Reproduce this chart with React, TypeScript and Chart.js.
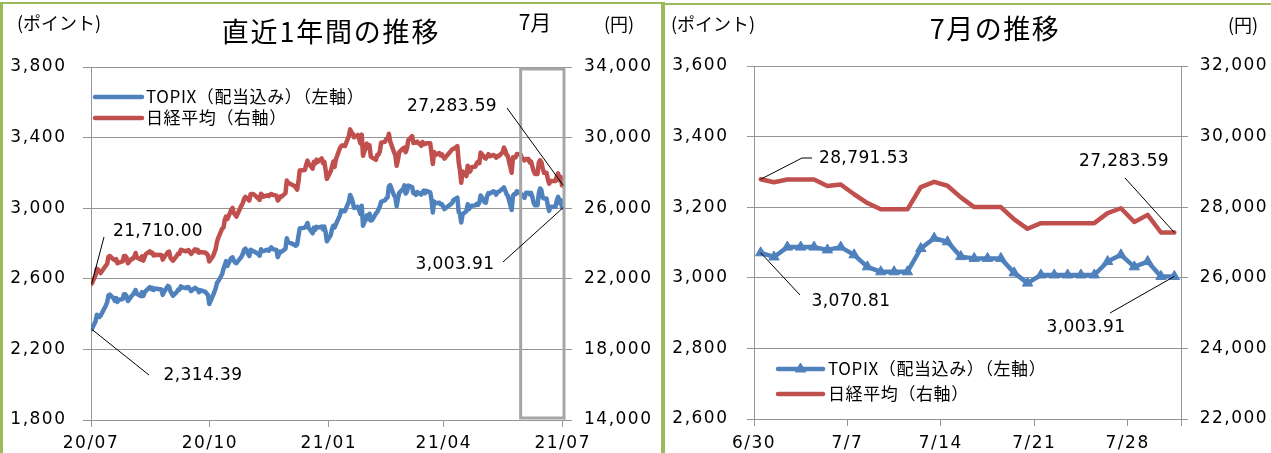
import React, { useEffect, useRef } from 'react';
import { Chart, registerables } from 'chart.js';

Chart.register(...registerables);

// ---------------- DATA: one year (trading days, 2020-07-31 .. 2021-06-29) ----------------
const YEAR_DATES = [
  '2020-07-31',
  '2020-08-03','2020-08-04','2020-08-05','2020-08-06','2020-08-07','2020-08-11','2020-08-12','2020-08-13','2020-08-14','2020-08-17',
  '2020-08-18','2020-08-19','2020-08-20','2020-08-21','2020-08-24','2020-08-25','2020-08-26','2020-08-27','2020-08-28','2020-08-31',
  '2020-09-01','2020-09-02','2020-09-03','2020-09-04','2020-09-07','2020-09-08','2020-09-09','2020-09-10','2020-09-11','2020-09-14',
  '2020-09-15','2020-09-16','2020-09-17','2020-09-18','2020-09-23','2020-09-24','2020-09-25','2020-09-28','2020-09-29','2020-09-30',
  '2020-10-02','2020-10-05','2020-10-06','2020-10-07','2020-10-08','2020-10-09','2020-10-12','2020-10-13','2020-10-14','2020-10-15',
  '2020-10-16','2020-10-19','2020-10-20','2020-10-21','2020-10-22','2020-10-23','2020-10-26','2020-10-27','2020-10-28','2020-10-29','2020-10-30',
  '2020-11-02','2020-11-04','2020-11-05','2020-11-06','2020-11-09','2020-11-10','2020-11-11','2020-11-12','2020-11-13','2020-11-16',
  '2020-11-17','2020-11-18','2020-11-19','2020-11-20','2020-11-24','2020-11-25','2020-11-26','2020-11-27','2020-11-30',
  '2020-12-01','2020-12-02','2020-12-03','2020-12-04','2020-12-07','2020-12-08','2020-12-09','2020-12-10','2020-12-11','2020-12-14',
  '2020-12-15','2020-12-16','2020-12-17','2020-12-18','2020-12-21','2020-12-22','2020-12-23','2020-12-24','2020-12-25','2020-12-28','2020-12-29','2020-12-30',
  '2021-01-04','2021-01-05','2021-01-06','2021-01-07','2021-01-08','2021-01-12','2021-01-13','2021-01-14','2021-01-15','2021-01-18',
  '2021-01-19','2021-01-20','2021-01-21','2021-01-22','2021-01-25','2021-01-26','2021-01-27','2021-01-28','2021-01-29',
  '2021-02-01','2021-02-02','2021-02-03','2021-02-04','2021-02-05','2021-02-08','2021-02-09','2021-02-10','2021-02-12','2021-02-15',
  '2021-02-16','2021-02-17','2021-02-18','2021-02-19','2021-02-22','2021-02-24','2021-02-25','2021-02-26',
  '2021-03-01','2021-03-02','2021-03-03','2021-03-04','2021-03-05','2021-03-08','2021-03-09','2021-03-10','2021-03-11','2021-03-12',
  '2021-03-15','2021-03-16','2021-03-17','2021-03-18','2021-03-19','2021-03-22','2021-03-23','2021-03-24','2021-03-25','2021-03-26',
  '2021-03-29','2021-03-30','2021-03-31',
  '2021-04-01','2021-04-02','2021-04-05','2021-04-06','2021-04-07','2021-04-08','2021-04-09','2021-04-12','2021-04-13','2021-04-14',
  '2021-04-15','2021-04-16','2021-04-19','2021-04-20','2021-04-21','2021-04-22','2021-04-23','2021-04-26','2021-04-27','2021-04-28','2021-04-30',
  '2021-05-06','2021-05-07','2021-05-10','2021-05-11','2021-05-12','2021-05-13','2021-05-14','2021-05-17','2021-05-18','2021-05-19',
  '2021-05-20','2021-05-21','2021-05-24','2021-05-25','2021-05-26','2021-05-27','2021-05-28','2021-05-31',
  '2021-06-01','2021-06-02','2021-06-03','2021-06-04','2021-06-07','2021-06-08','2021-06-09','2021-06-10','2021-06-11','2021-06-14',
  '2021-06-15','2021-06-16','2021-06-17','2021-06-18','2021-06-21','2021-06-22','2021-06-23','2021-06-24','2021-06-25','2021-06-28','2021-06-29',
];

const YEAR_NIKKEI = [
  21710.00,
  22195, 22573, 22514, 22418, 22329, 22750, 22843, 23249, 23289, 23097,
  23051, 23110, 22880, 22920, 22985, 23296, 23290, 23208, 22882, 23139,
  23138, 23247, 23465, 23205, 23089, 23274, 23032, 23235, 23406, 23559,
  23454, 23475, 23319, 23360, 23346, 23087, 23204, 23511, 23539, 23185,
  23029, 23312, 23433, 23422, 23647, 23619, 23558, 23601, 23626, 23507,
  23410, 23671, 23567, 23639, 23474, 23516, 23494, 23485, 23418, 23331, 22977,
  23295, 23695, 24105, 24325, 24839, 24905, 25349, 25520, 25385, 25906,
  26014, 25728, 25634, 25527, 26165, 26296, 26537, 26644, 26433,
  26787, 26800, 26809, 26751, 26547, 26467, 26817, 26756, 26652, 26732,
  26687, 26757, 26806, 26763, 26714, 26436, 26524, 26668, 26656, 26854, 27568, 27444,
  27258, 27158, 27055, 27490, 28139, 28164, 28456, 28698, 28519, 28242,
  28633, 28523, 28756, 28631, 28822, 28546, 28635, 28197, 27663,
  28091, 28362, 28646, 28341, 28779, 29388, 29505, 29562, 29520, 30084,
  30467, 30292, 30236, 30017, 30156, 29671, 30168, 28966,
  29663, 29408, 29559, 28930, 28864, 28743, 29028, 29036, 29212, 29717,
  29766, 29921, 29914, 30216, 29792, 29174, 28995, 28405, 28729, 29176,
  29384, 29432, 29178,
  29388, 29854, 30089, 29696, 29730, 29708, 29768, 29538, 29751, 29620,
  29642, 29683, 29685, 29100, 28508, 29188, 29020, 29126, 28991, 29053, 28812,
  29331, 29357, 29518, 28608, 28147, 27448, 28084, 27824, 28406, 28044,
  28098, 28317, 28364, 28553, 28642, 28549, 29149, 28860,
  28814, 28946, 29058, 28941, 29019, 28963, 28860, 28958, 28948, 29161,
  29441, 29291, 29018, 28964, 28010, 28884, 28874, 28875, 29066, 29048, 28812,
];

const YEAR_TOPIX = [
  2314.39,
  2358, 2396, 2390, 2384, 2392, 2449, 2466, 2506, 2511, 2489,
  2475, 2491, 2469, 2481, 2485, 2512, 2512, 2502, 2474, 2503,
  2512, 2522, 2536, 2515, 2502, 2525, 2503, 2523, 2532, 2553,
  2542, 2548, 2537, 2545, 2539, 2509, 2525, 2560, 2555, 2529,
  2504, 2527, 2539, 2538, 2557, 2552, 2547, 2553, 2552, 2541,
  2530, 2549, 2543, 2539, 2524, 2536, 2529, 2525, 2516, 2510, 2457,
  2507, 2547, 2578, 2586, 2627, 2656, 2676, 2700, 2673, 2718,
  2721, 2703, 2692, 2689, 2726, 2742, 2765, 2771, 2729,
  2765, 2760, 2756, 2754, 2739, 2731, 2767, 2757, 2757, 2765,
  2759, 2768, 2778, 2768, 2764, 2723, 2740, 2754, 2753, 2770, 2830, 2809,
  2792, 2787, 2795, 2841, 2885, 2890, 2900, 2916, 2888, 2858,
  2890, 2877, 2894, 2890, 2896, 2880, 2896, 2866, 2813,
  2848, 2882, 2900, 2891, 2910, 2958, 2986, 2983, 2983, 3037,
  3075, 3059, 3037, 3002, 3008, 2967, 3014, 2900,
  2960, 2938, 2969, 2930, 2932, 2970, 2978, 2995, 3009, 3036,
  3045, 3056, 3061, 3124, 3131, 3072, 3064, 3011, 3053, 3087,
  3109, 3129, 3083,
  3093, 3128, 3120, 3085, 3088, 3076, 3091, 3077, 3091, 3099,
  3085, 3098, 3090, 3047, 2976, 3038, 3028, 3031, 3022, 3023, 2995,
  3030, 3047, 3060, 2979, 2968, 2919, 2965, 2984, 3022, 2995,
  3008, 3014, 3016, 3025, 3019, 3033, 3072, 3035,
  3031, 3069, 3085, 3082, 3096, 3091, 3077, 3091, 3093, 3110,
  3118, 3101, 3080, 3071, 2990, 3071, 3080, 3079, 3096, 3082, 3068,
];

const YEAR_TICK_DATES = ['2020-07-31', '2020-10-31', '2021-01-31', '2021-04-30', '2021-07-31'];
const YEAR_TICK_LABELS = ['20/07', '20/10', '21/01', '21/04', '21/07'];
const YEAR_END_DATE = '2021-07-31';
const HIGHLIGHT_START = '2021-06-30';

// ---------------- DATA: July (daily, 2021-06-30 .. 2021-07-31) ----------------
const JULY_DATES = [
  '2021-06-30','2021-07-01','2021-07-02','2021-07-03','2021-07-04','2021-07-05','2021-07-06','2021-07-07',
  '2021-07-08','2021-07-09','2021-07-10','2021-07-11','2021-07-12','2021-07-13','2021-07-14','2021-07-15',
  '2021-07-16','2021-07-17','2021-07-18','2021-07-19','2021-07-20','2021-07-21','2021-07-22','2021-07-23',
  '2021-07-24','2021-07-25','2021-07-26','2021-07-27','2021-07-28','2021-07-29','2021-07-30','2021-07-31',
];
const JULY_NIKKEI = [
  28791.53, 28707.04, 28783.28, 28783.28, 28783.28, 28598.19, 28643.21, 28366.95,
  28118.03, 27940.42, 27940.42, 27940.42, 28569.02, 28718.24, 28608.49, 28279.09,
  28003.08, 28003.08, 28003.08, 27652.74, 27388.16, 27548.00, 27548.00, 27548.00,
  27548.00, 27548.00, 27833.29, 27970.22, 27581.66, 27782.42, 27283.59, 27283.59,
];
const JULY_TOPIX = [
  3070.81, 3059, 3087, 3087, 3087, 3079, 3087, 3065,
  3031, 3017, 3017, 3017, 3083, 3112, 3102, 3060,
  3055, 3055, 3055, 3014, 2985, 3008, 3008, 3008,
  3008, 3008, 3046, 3065, 3031, 3046, 3003.91, 3003.91,
];
const JULY_TICK_DATES = ['2021-06-30', '2021-07-07', '2021-07-14', '2021-07-21', '2021-07-28'];
const JULY_TICK_LABELS = ['6/30', '7/7', '7/14', '7/21', '7/28'];

const LABEL_TOPIX = 'TOPIX（配当込み）（左軸）';
const LABEL_NIKKEI = '日経平均（右軸）';

// ---------------- STYLE ----------------
const BLUE = '#4F81BD';
const RED = '#C0504D';
const GRID = '#959595';
const FRAME = '#9BBB59';
const HILITE = '#A6A6A6';
const TICK_FONT = "'DejaVu Sans', sans-serif";
const JP_FONT = "'Noto Sans CJK JP', 'Noto Sans', sans-serif";
const NUM_FONT = "'DejaVu Sans', sans-serif";

const BASE = Date.UTC(2020, 6, 31);
function dayOffset(iso: string): number {
  const [y, m, d] = iso.split('-').map(Number);
  return Math.round((Date.UTC(y, m - 1, d) - BASE) / 86400000);
}
const fmt2 = (v: number) => v.toLocaleString('en-US', { minimumFractionDigits: 2, maximumFractionDigits: 2 });
const fmtTick = (v: number | string) => Number(v).toLocaleString('en-US');

type TextItem = { text: string; x: number; y: number; size: number; family?: string; spacing?: number; align?: CanvasTextAlign };
type Callout = { dataset: number; index: number; path: [number, number][]; text: string; x: number; y: number };
type DecorCfg = {
  tickSpacing: number;
  texts: TextItem[];
  legend: { x0: number; x1: number; ys: number[]; textX: number; size: number; spacing: number };
  callouts: Callout[];
  highlightFrom?: number;
};

function drawText(ctx: any, t: TextItem) {
  ctx.save();
  ctx.font = `${t.size}px ${t.family || JP_FONT}`;
  ctx.letterSpacing = `${t.spacing || 0}px`;
  ctx.fillStyle = '#000';
  ctx.textAlign = t.align || 'center';
  ctx.textBaseline = 'middle';
  ctx.fillText(t.text, t.x, t.y);
  ctx.restore();
}

function triangle(ctx: any, x: number, y: number, r: number, color: string) {
  ctx.save();
  ctx.beginPath();
  let rad = 0;
  ctx.moveTo(x + Math.sin(rad) * r, y - Math.cos(rad) * r);
  rad += (2 * Math.PI) / 3;
  ctx.lineTo(x + Math.sin(rad) * r, y - Math.cos(rad) * r);
  rad += (2 * Math.PI) / 3;
  ctx.lineTo(x + Math.sin(rad) * r, y - Math.cos(rad) * r);
  ctx.closePath();
  ctx.fillStyle = color;
  ctx.strokeStyle = color;
  ctx.lineWidth = 1;
  ctx.fill();
  ctx.stroke();
  ctx.restore();
}

function makeDecor(cfg: DecorCfg) {
  return {
    id: 'decor',
    beforeDraw(chart: any) {
      chart.ctx.letterSpacing = `${cfg.tickSpacing}px`;
    },
    afterDatasetsDraw(chart: any) {
      if (cfg.highlightFrom === undefined) return;
      const { ctx, chartArea } = chart;
      const xs = chart.scales.x;
      const x0 = xs.getPixelForValue(cfg.highlightFrom) - 2;
      const x1 = chartArea.right;
      ctx.save();
      ctx.strokeStyle = HILITE;
      ctx.lineWidth = 3;
      ctx.strokeRect(x0, chartArea.top + 2, x1 - x0, chartArea.bottom - chartArea.top - 4);
      ctx.restore();
    },
    afterDraw(chart: any) {
      const ctx = chart.ctx;
      cfg.texts.forEach((t) => drawText(ctx, t));
      // legend
      const L = cfg.legend;
      chart.data.datasets.forEach((ds: any, i: number) => {
        const y = L.ys[i];
        ctx.save();
        ctx.strokeStyle = ds.borderColor;
        ctx.lineWidth = 4.5;
        ctx.lineCap = 'round';
        ctx.beginPath();
        ctx.moveTo(L.x0, y);
        ctx.lineTo(L.x1, y);
        ctx.stroke();
        ctx.restore();
        if (ds.pointStyle === 'triangle' && ds.pointRadius > 0) {
          triangle(ctx, (L.x0 + L.x1) / 2, y, ds.pointRadius, ds.borderColor);
        }
        drawText(ctx, { text: ds.label, x: L.textX, y, size: L.size, spacing: L.spacing, align: 'left' });
      });
      // callouts
      cfg.callouts.forEach((c) => {
        const meta = chart.getDatasetMeta(c.dataset);
        const pts = meta.data;
        const p = pts[c.index < 0 ? pts.length + c.index : c.index];
        ctx.save();
        ctx.strokeStyle = '#000';
        ctx.lineWidth = 1;
        ctx.beginPath();
        ctx.moveTo(c.path[0][0], c.path[0][1]);
        for (let k = 1; k < c.path.length; k++) ctx.lineTo(c.path[k][0], c.path[k][1]);
        ctx.lineTo(p.x, p.y);
        ctx.stroke();
        ctx.restore();
        drawText(ctx, { text: c.text, x: c.x, y: c.y, size: 17, family: NUM_FONT, spacing: 0.4 });
      });
    },
  };
}

function axisCommon() {
  return {
    color: '#000',
    font: { family: TICK_FONT, size: 17 },
  };
}

function yearConfig(): any {
  const topix = [
    ...YEAR_TOPIX.map((v, i) => ({ x: dayOffset(YEAR_DATES[i]), y: v })),
    ...JULY_TOPIX.map((v, i) => ({ x: dayOffset(JULY_DATES[i]), y: v })),
  ];
  const nikkei = [
    ...YEAR_NIKKEI.map((v, i) => ({ x: dayOffset(YEAR_DATES[i]), y: v })),
    ...JULY_NIKKEI.map((v, i) => ({ x: dayOffset(JULY_DATES[i]), y: v })),
  ];
  const tickVals = YEAR_TICK_DATES.map((d) => dayOffset(d) - 0.5);
  const decor = makeDecor({
    tickSpacing: 1.5,
    texts: [
      { text: '(ポイント)', x: 59, y: 23, size: 18 },
      { text: '直近1年間の推移', x: 331, y: 32, size: 27, spacing: 1.8 },
      { text: '7月', x: 535, y: 22, size: 21 },
      { text: '(円)', x: 619, y: 24, size: 18 },
    ],
    legend: { x0: 95, x1: 142, ys: [97, 118], textX: 146, size: 17, spacing: 0.6 },
    callouts: [
      { dataset: 1, index: 0, path: [[104, 237]], text: fmt2(YEAR_NIKKEI[0]), x: 158, y: 232 },
      { dataset: 0, index: 0, path: [[149, 375]], text: fmt2(YEAR_TOPIX[0]), x: 203, y: 376 },
      { dataset: 1, index: -1, path: [[507, 108]], text: fmt2(JULY_NIKKEI[JULY_NIKKEI.length - 1]), x: 452, y: 107 },
      { dataset: 0, index: -1, path: [[503, 262]], text: fmt2(JULY_TOPIX[JULY_TOPIX.length - 1]), x: 455, y: 265 },
    ],
    highlightFrom: dayOffset(HIGHLIGHT_START) - 0.5,
  });
  return {
    type: 'line',
    data: {
      datasets: [
        { label: LABEL_TOPIX, data: topix, yAxisID: 'y', borderColor: BLUE, backgroundColor: BLUE, borderWidth: 4.5, pointRadius: 0, tension: 0, borderJoinStyle: 'round', borderCapStyle: 'round' },
        { label: LABEL_NIKKEI, data: nikkei, yAxisID: 'y1', borderColor: RED, backgroundColor: RED, borderWidth: 4.5, pointRadius: 0, tension: 0, borderJoinStyle: 'round', borderCapStyle: 'round' },
      ],
    },
    options: {
      responsive: false,
      animation: false,
      devicePixelRatio: 1,
      events: [],
      layout: { padding: { top: 67, left: 0, right: 0, bottom: 0 } },
      plugins: { legend: { display: false }, tooltip: { enabled: false }, title: { display: false } },
      scales: {
        x: {
          type: 'linear',
          bounds: 'data',
          min: -0.5,
          max: dayOffset(YEAR_END_DATE) + 0.5,
          afterBuildTicks: (s: any) => { s.ticks = tickVals.map((v) => ({ value: v })); },
          afterFit: (s: any) => { s.height = 33; },
          ticks: { ...axisCommon(), autoSkip: false, maxRotation: 0, minRotation: 0, padding: 6, callback: (_v: any, i: number) => YEAR_TICK_LABELS[i] },
          grid: { drawOnChartArea: false, drawTicks: true, tickLength: 7, color: GRID },
          border: { display: true, color: GRID },
        },
        y: {
          position: 'left',
          min: 1800,
          max: 3800,
          afterFit: (s: any) => { s.width = 91; },
          ticks: { ...axisCommon(), stepSize: 400, padding: 16.5, callback: fmtTick },
          grid: { color: GRID, tickLength: 8 },
          border: { display: true, color: GRID },
        },
        y1: {
          position: 'right',
          min: 14000,
          max: 34000,
          afterFit: (s: any) => { s.width = 99; },
          ticks: { ...axisCommon(), stepSize: 4000, padding: 12, callback: fmtTick },
          grid: { drawOnChartArea: false, color: GRID, tickLength: 8 },
          border: { display: true, color: GRID },
        },
      },
    },
    plugins: [decor],
  };
}

function julyConfig(): any {
  const topix = JULY_TOPIX.map((v, i) => ({ x: i, y: v }));
  const nikkei = JULY_NIKKEI.map((v, i) => ({ x: i, y: v }));
  const tickVals = [...JULY_TICK_DATES.map((d) => JULY_DATES.indexOf(d) - 0.5), JULY_DATES.length - 0.5];
  const decor = makeDecor({
    tickSpacing: 1.5,
    texts: [
      { text: '(ポイント)', x: 50, y: 24, size: 18 },
      { text: '7月の推移', x: 332, y: 29, size: 27, spacing: 1.5 },
      { text: '(円)', x: 580, y: 25, size: 18 },
    ],
    legend: { x0: 115, x1: 160, ys: [369, 394], textX: 165, size: 17, spacing: 0.6 },
    callouts: [
      { dataset: 1, index: 0, path: [[149, 158], [139, 158]], text: fmt2(JULY_NIKKEI[0]), x: 201, y: 159 },
      { dataset: 0, index: 0, path: [[137, 295]], text: fmt2(JULY_TOPIX[0]), x: 188, y: 302 },
      { dataset: 1, index: -1, path: [[462, 178]], text: fmt2(JULY_NIKKEI[JULY_NIKKEI.length - 1]), x: 461, y: 162 },
      { dataset: 0, index: -1, path: [[447, 313]], text: fmt2(JULY_TOPIX[JULY_TOPIX.length - 1]), x: 423, y: 328 },
    ],
  });
  return {
    type: 'line',
    data: {
      datasets: [
        { label: LABEL_TOPIX, data: topix, yAxisID: 'y', borderColor: BLUE, backgroundColor: BLUE, borderWidth: 4.5, pointStyle: 'triangle', pointRadius: 6, pointBorderWidth: 1, pointBackgroundColor: BLUE, pointBorderColor: BLUE, tension: 0, borderJoinStyle: 'round', borderCapStyle: 'round' },
        { label: LABEL_NIKKEI, data: nikkei, yAxisID: 'y1', borderColor: RED, backgroundColor: RED, borderWidth: 4.5, pointRadius: 0, tension: 0, borderJoinStyle: 'round', borderCapStyle: 'round' },
      ],
    },
    options: {
      responsive: false,
      animation: false,
      devicePixelRatio: 1,
      events: [],
      layout: { padding: { top: 66, left: 0, right: 0, bottom: 0 } },
      plugins: { legend: { display: false }, tooltip: { enabled: false }, title: { display: false } },
      scales: {
        x: {
          type: 'linear',
          bounds: 'data',
          min: -0.5,
          max: JULY_DATES.length - 0.5,
          afterBuildTicks: (s: any) => { s.ticks = tickVals.map((v) => ({ value: v })); },
          afterFit: (s: any) => { s.height = 34; },
          ticks: { ...axisCommon(), autoSkip: false, maxRotation: 0, minRotation: 0, padding: 7, callback: (_v: any, i: number) => JULY_TICK_LABELS[i] || '' },
          grid: { drawOnChartArea: false, drawTicks: true, tickLength: 7, color: GRID },
          border: { display: true, color: GRID },
        },
        y: {
          position: 'left',
          min: 2600,
          max: 3600,
          afterFit: (s: any) => { s.width = 91; },
          ticks: { ...axisCommon(), stepSize: 200, padding: 18.5, callback: fmtTick },
          grid: { color: GRID, tickLength: 7 },
          border: { display: true, color: GRID },
        },
        y1: {
          position: 'right',
          min: 22000,
          max: 32000,
          afterFit: (s: any) => { s.width = 90; },
          ticks: { ...axisCommon(), stepSize: 2000, padding: 11.7, callback: fmtTick },
          grid: { drawOnChartArea: false, color: GRID, tickLength: 7 },
          border: { display: true, color: GRID },
        },
      },
    },
    plugins: [decor],
  };
}

export default function App() {
  const leftRef = useRef<HTMLCanvasElement>(null);
  const rightRef = useRef<HTMLCanvasElement>(null);

  useEffect(() => {
    document.body.style.margin = '0';
    const c1 = new Chart(leftRef.current as HTMLCanvasElement, yearConfig());
    const c2 = new Chart(rightRef.current as HTMLCanvasElement, julyConfig());
    return () => {
      c1.destroy();
      c2.destroy();
    };
  }, []);

  const abs = (l: number, t: number, w: number, h: number, bg: string) => ({
    position: 'absolute' as const, left: l, top: t, width: w, height: h, background: bg,
  });

  return (
    <div style={{ position: 'fixed', left: 0, top: 0, width: 1271, height: 453, overflow: 'hidden', background: '#fff' }}>
      <canvas ref={leftRef} width={663} height={453} style={{ position: 'absolute', left: 0, top: 0, width: 663, height: 453 }} />
      <canvas ref={rightRef} width={608} height={453} style={{ position: 'absolute', left: 663, top: 0, width: 608, height: 453 }} />
      <div style={abs(0, 2, 662, 2, FRAME)} />
      <div style={abs(0, 2, 3, 451, FRAME)} />
      <div style={abs(661, 2, 4, 451, FRAME)} />
      <div style={abs(663, 3, 608, 2, FRAME)} />
    </div>
  );
}
